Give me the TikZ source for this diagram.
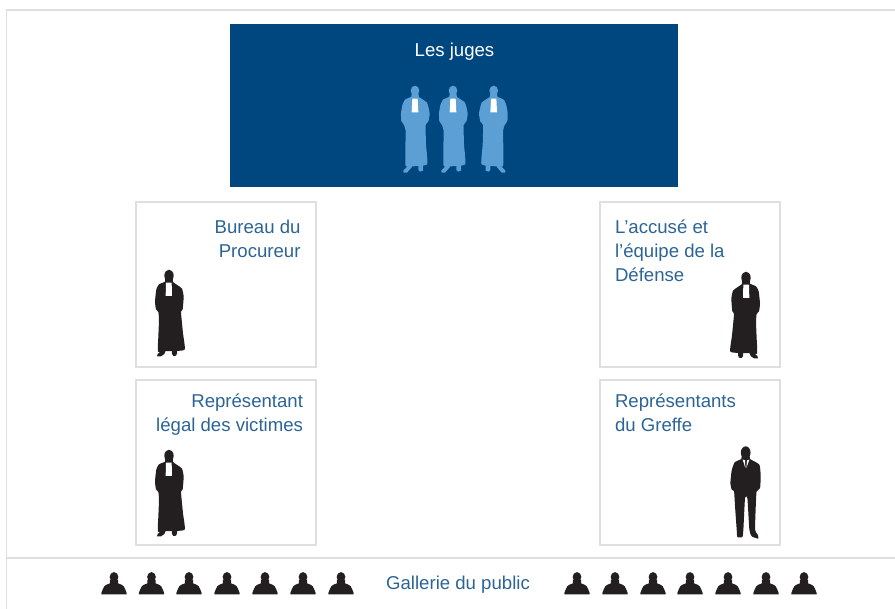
\documentclass[tikz,border=0pt]{standalone}
\usepackage{fontspec}
\setmainfont{Liberation Sans}
\definecolor{navy}{HTML}{00467F}
\definecolor{robeblue}{HTML}{5B9FD4}
\definecolor{ink}{HTML}{231F20}
\definecolor{rule}{HTML}{DFDFDF}
\definecolor{label}{HTML}{2C6496}
\tikzset{
  panel/.style={draw=rule,line width=1.5pt,fill=white,anchor=north west,inner sep=0pt,outer sep=0pt,minimum width=180pt,minimum height=165pt},
  caption/.style={text=label,inner sep=0pt,outer sep=0pt,font=\fontsize{18.6}{24}\selectfont},
  framing/.style={draw=rule,line width=1.8pt},
  pics/robe/.style={code={
    \fill[#1] (0,17) ellipse [x radius=14, y radius=18];
    \fill[#1] plot[smooth cycle,tension=0.3] coordinates {(-11,26) (-12,35) (-30,43) (-38,58) (-42,95) (-39,118) (-32,126) (-30,150) (-32,200) (-33,245) (-10,243) (10,243) (47,239) (42,190) (36,126) (41,118) (44,80) (39,56) (26,46) (12,36) (11,26)};
    \fill[#1] (-18,238) -- (-34,252) -- (-36,259) -- (-24,259) -- (-14,252) -- (-9,240) -- cycle;
    \fill[#1] (8,238) -- (9,252) -- (13,258) -- (21,257) -- (24,250) -- (24,238) -- cycle;
    \fill[white] (-9,38) -- (8,38) -- (9,78) -- (-10,78) -- cycle;
  }},
  pics/judge/.style={code={
    \fill[#1] (0,14) ellipse [x radius=13, y radius=15];
    \fill[#1] plot[smooth cycle,tension=0.3] coordinates {(-10,22) (-11,32) (-30,41) (-38,58) (-42,82) (-41,105) (-33,117) (-28,135) (-29,190) (-28,240) (-10,241) (10,240) (37,234) (33,175) (32,117) (40,107) (44,82) (36,50) (12,33) (10,22)};
    \fill[#1] (-18,236) -- (-35,254) -- (-34,260) -- (-24,260) -- (-10,244) -- (-8,236) -- cycle;
    \fill[#1] (10,236) -- (10,252) -- (15,257) -- (24,254) -- (24,234) -- cycle;
    \fill[white] (-8,38) -- (8,38) -- (10,79) -- (-10,79) -- cycle;
  }},
  pics/suit/.style={code={
    \fill[#1] (0,17) ellipse [x radius=14.5, y radius=19];
    \fill[#1] plot[smooth cycle,tension=0.3] coordinates {(-12,28) (-13,36) (-33,46) (-42,70) (-46,108) (-42,128) (-35,133) (-32,178) (-27,248) (-25,270) (-10,270) (-7,248) (-2,153) (5,153) (11,248) (18,268) (38,275) (36,263) (28,248) (31,158) (33,133) (43,123) (45,88) (41,53) (13,36) (12,28)};
    \fill[white] (-9,38) -- (-2,40) -- (-1,63) -- cycle;
    \fill[white] (11,38) -- (4,40) -- (2,63) -- cycle;
  }},
  pics/bust/.style={code={
    \fill[#1] (0,14) ellipse [x radius=13, y radius=14.5];
    \fill[#1] plot[smooth cycle,tension=0.2] coordinates {(-12,22) (-12,33) (-22,37) (-29,42) (-34,52) (-38,66) (0,66.5) (38,66) (34,52) (29,42) (22,37) (12,33) (12,22)};
  }}
}
\begin{document}
\begin{tikzpicture}[x=1pt,y=-1pt]
\useasboundingbox (0,0) rectangle (895,609);
\coordinate (fl) at (6.5,609);
\coordinate (ftl) at (6.5,10);
\coordinate (ftr) at (895,10);
\coordinate (gl) at (6.5,558);
\coordinate (gr) at (895,558);
\draw[framing] (fl) -- (ftl) -- (ftr);
\draw[framing] (gl) -- (gr);

\node[fill=navy,anchor=north west,inner sep=0pt,outer sep=0pt,minimum width=448pt,minimum height=163pt] (juges) at (230,24) {};
\node[caption,text=white,anchor=center] (tjuges) at (454.5,52) {Les juges};
\pic[scale=1/3] at (415,86) {judge=robeblue};
\pic[scale=1/3] at (453,86) {judge=robeblue};
\pic[scale=1/3,xscale=-1] at (493.7,86) {judge=robeblue};

\node[panel] (bureau) at (136,202) {};
\node[panel] (legal) at (136,380) {};
\node[panel] (defense) at (600,202) {};
\node[panel] (greffe) at (600,380) {};

\node[caption,align=right,anchor=north east] (tbureau) at (300.5,220) {Bureau du\\Procureur};
\node[caption,align=right,anchor=north east] (tlegal) at (303,394) {Représentant\\légal des victimes};
\node[caption,align=left,anchor=north west] (tdefense) at (615,220) {L’accusé et\\l’équipe de la\\Défense};
\node[caption,align=left,anchor=north west] (tgreffe) at (615,394) {Représentants\\du Greffe};

\pic[scale=1/3] at (169,270) {robe=ink};
\pic[scale=1/3] at (169,450) {robe=ink};
\pic[scale=1/3,xscale=-1] at (746,272) {robe=ink};
\pic[scale=1/3] at (745.7,447) {suit=ink};

\node[caption,anchor=center] (tpublic) at (458,585) {Gallerie du public};
\foreach \px in {114,151.5,189,227,265,303,341,577,615,653,690,728,766,804}
  \pic[scale=1/3] at (\px,572.3) {bust=ink};
\end{tikzpicture}
\end{document}
